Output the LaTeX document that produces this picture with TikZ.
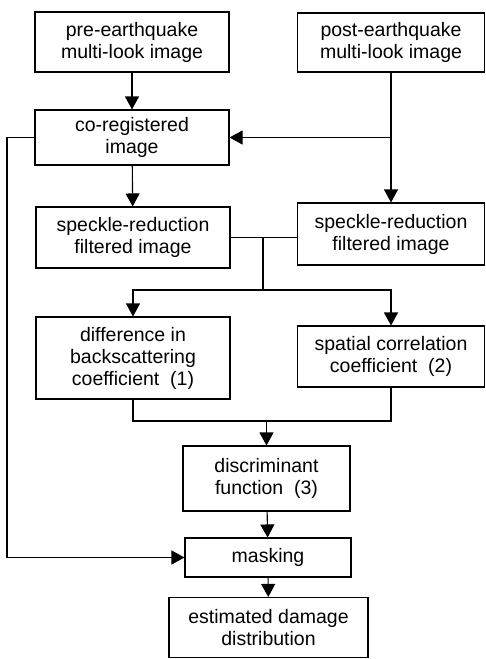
\documentclass[tikz,border=0pt]{standalone}
\usepackage{fontspec}
\setmainfont{Liberation Sans}
\usepackage{tikz}
\usetikzlibrary{arrows.meta}

\tikzset{
    flowbox/.style={draw, line width=1.1pt, align=center, inner sep=0pt,
        font=\fontsize{19.5}{22}\selectfont},
    flowline/.style={line width=1.1pt},
    flowarrow/.style={flowline, -{Triangle[length=13pt,width=14pt]}}
}

\begin{document}
\begin{tikzpicture}[x=1pt, y=-1pt]
    \useasboundingbox (0,0) rectangle (486,659);

    \node[flowbox, minimum width=194pt, minimum height=60pt] (pre) at (132,42) {pre-earthquake\\multi-look image};
    \node[flowbox, minimum width=187pt, minimum height=59pt] (post) at (391,42.5) {post-earthquake\\multi-look image};
    \node[flowbox, minimum width=194pt, minimum height=55pt] (coreg) at (132,137.5) {co-registered\\image};
    \node[flowbox, minimum width=194pt, minimum height=61pt] (specL) at (133,237.5) {speckle-reduction\\filtered image};
    \node[flowbox, minimum width=187pt, minimum height=62pt] (specR) at (391,234) {speckle-reduction\\filtered image};
    \node[flowbox, minimum width=194pt, minimum height=82pt] (diff) at (133,358) {difference in\\backscattering\\coefficient\ \ (1)};
    \node[flowbox, minimum width=187pt, minimum height=61pt] (spat) at (391,356.5) {spatial correlation\\coefficient\ \ (2)};
    \node[flowbox, minimum width=167pt, minimum height=65pt] (disc) at (266.5,478.5) {discriminant\\function\ \ (3)};
    \node[flowbox, minimum width=166pt, minimum height=39pt] (mask) at (268,557.5) {masking};
    \node[flowbox, minimum width=199pt, minimum height=60pt] (est) at (268.5,627.5) {estimated damage\\distribution};

    \coordinate (L) at (7,137.5);
    \coordinate (J1) at (263,237.5);
    \coordinate (J2) at (263,290);
    \coordinate (J3) at (266.5,421);

    \draw[flowarrow] (pre) -- (coreg);
    \draw[flowarrow] (post) -- (specR);
    \draw[flowarrow] (post.south |- coreg.east) -- (coreg.east);
    \draw[flowarrow] (coreg.west) -- (L) |- (mask.west);
    \draw[flowarrow] (coreg) -- (specL);
    \draw[flowline] (specL.east) -- (specL.east -| specR.west);
    \draw[flowline] (J1) -- (J2);
    \draw[flowarrow] (J2) -| (diff.north);
    \draw[flowarrow] (J2) -| (spat.north);
    \draw[flowline] (diff.south) |- (J3) -| (spat.south);
    \draw[flowarrow] (J3) -- (disc.north);
    \draw[flowarrow] (disc) -- (mask);
    \draw[flowarrow] (mask) -- (est);
\end{tikzpicture}
\end{document}
